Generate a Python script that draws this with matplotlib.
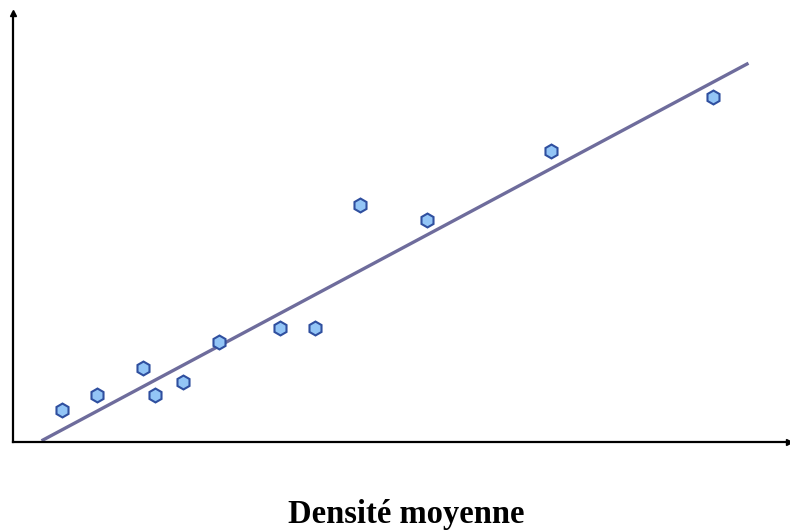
import matplotlib
matplotlib.use("Agg")
import matplotlib.pyplot as plt

# Points mesurés (densité, valeur) et droite de régression
densite = [49, 84, 130, 142, 170, 206, 267, 302, 347, 414, 538, 700]
valeur = [32, 47, 74, 47, 60, 100, 114, 114, 237, 222, 291, 345]
droite_x = [30, 734]
droite_y = [2, 378]

fig = plt.figure(figsize=(7.9, 5.31), dpi=100)
ax = fig.add_axes([13 / 790, 89 / 531, 776 / 790, 429 / 531])
ax.set_xlim(0, 776)
ax.set_ylim(0, 429)

ax.plot(droite_x, droite_y, color="#6e6c9c", linewidth=2.4, zorder=2)
ax.plot(densite, valeur, linestyle="none", marker="h", markersize=10,
        markerfacecolor="#93c5f6", markeredgecolor="#2f4f9f",
        markeredgewidth=1.5, zorder=3)

# Axes avec flèches
for s in ["top", "right"]:
    ax.spines[s].set_visible(False)
ax.spines["left"].set_linewidth(1.6)
ax.spines["bottom"].set_linewidth(1.6)
ax.set_xticks([])
ax.set_yticks([])
ax.plot(1, 0, ">k", transform=ax.transAxes, clip_on=False, markersize=5)
ax.plot(0, 1, "^k", transform=ax.transAxes, clip_on=False, markersize=5)

fig.text(0.514, 0.015, "Densité moyenne", ha="center", va="baseline",
         fontfamily="Liberation Serif", fontweight="bold", fontsize=23.5)

fig.savefig("out.png", dpi=100)
